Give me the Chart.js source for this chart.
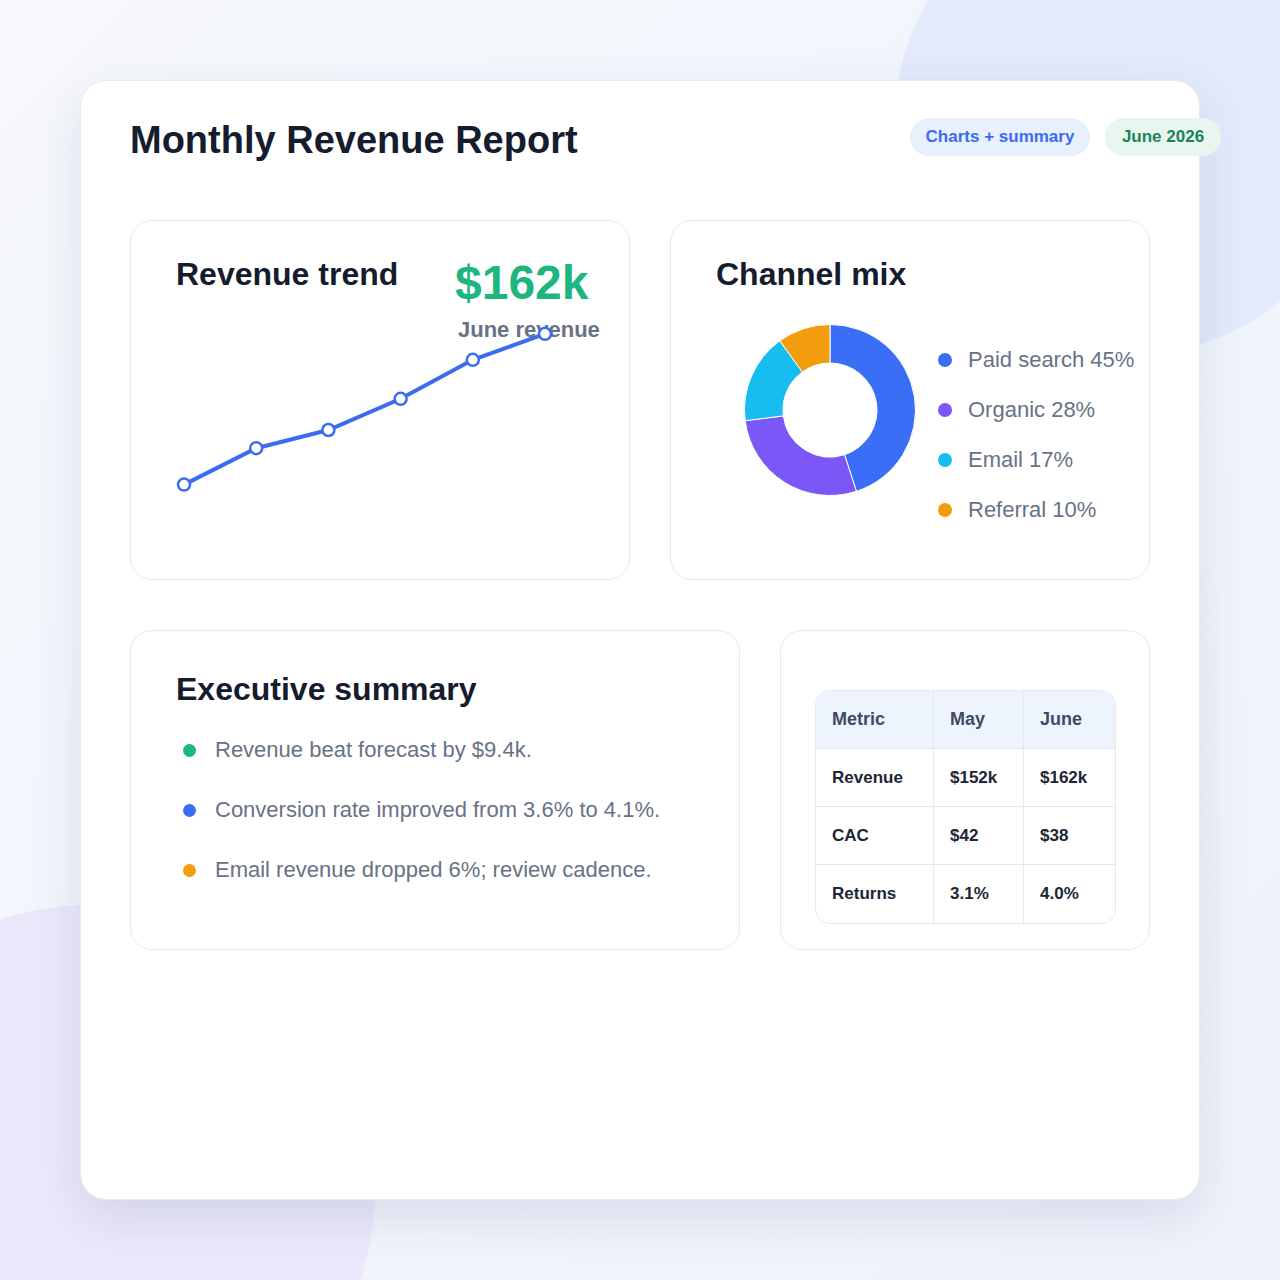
<!DOCTYPE html>
<html><head><meta charset="utf-8">
<script src="https://cdn.jsdelivr.net/npm/chart.js@4.4.1/dist/chart.umd.min.js"></script>
<style>
html,body{margin:0;padding:0;}
body{width:1280px;height:1280px;position:relative;overflow:hidden;font-family:"Liberation Sans",Arial,Helvetica,sans-serif;
background:linear-gradient(135deg,#f6f8fc 0%,#f1f5fc 50%,#eef2fb 100%);}
.blob1{position:absolute;left:895px;top:-115px;width:470px;height:470px;border-radius:50%;background:#e3eafc;}
.blob2{position:absolute;left:-195px;top:905px;width:570px;height:570px;border-radius:50%;background:#ebe8fb;}
.card{position:absolute;left:80px;top:80px;width:1118px;height:1118px;background:#fff;border-radius:26px;border:1px solid #e6eaf1;box-shadow:0 18px 50px rgba(40,60,110,0.12);}
.abs{position:absolute;}
h1{position:absolute;left:130px;top:117px;margin:0;font-size:38px;font-weight:700;color:#151c2e;line-height:46px;white-space:nowrap;}
.pill{position:absolute;top:118px;height:38px;line-height:38px;border-radius:19px;font-size:17px;font-weight:700;text-align:center;}
.panel{position:absolute;background:#fff;border:1.5px solid #e7eaf0;border-radius:22px;box-sizing:border-box;}
.ptitle{position:absolute;margin:0;font-size:32px;font-weight:700;color:#151c2e;line-height:36px;white-space:nowrap;}
.leg{position:absolute;left:938px;font-size:22px;color:#687286;line-height:30px;}
.leg span.dot{position:absolute;left:0;top:8px;width:14px;height:14px;border-radius:50%;}
.leg span.t{position:absolute;left:30px;white-space:nowrap;}
.bul{position:absolute;left:183px;font-size:22px;color:#687286;line-height:30px;white-space:nowrap;}
.bul span.dot{position:absolute;left:0;top:9px;width:13px;height:13px;border-radius:50%;}
.bul span.t{position:absolute;left:32px;}
table{position:absolute;left:815px;top:690px;width:301px;border-collapse:separate;border-spacing:0;border:1.5px solid #e4e8f0;border-radius:15px;overflow:hidden;}
td,th{height:58px;padding:0 0 0 16px;text-align:left;font-size:17px;font-weight:700;color:#1e2536;border-right:1.5px solid #e4e8f0;border-bottom:1.5px solid #e4e8f0;box-sizing:border-box;}
th{background:#eef4fd;color:#3e4a63;font-size:18px;}
tr td:last-child,tr th:last-child{border-right:none;}
tr:last-child td{border-bottom:none;}
</style></head>
<body>
<div class="blob1"></div>
<div class="blob2"></div>
<div class="card"></div>
<h1>Monthly Revenue Report</h1>
<div class="pill" style="left:910px;width:180px;background:#e8effd;color:#3b6cf0;">Charts + summary</div>
<div class="pill" style="left:1105px;width:116px;background:#e8f6ef;color:#198556;">June 2026</div>

<div class="panel" style="left:130px;top:220px;width:500px;height:360px;"></div>
<div class="ptitle" style="left:176px;top:256px;">Revenue trend</div>
<div class="abs" style="left:455px;top:256px;font-size:48px;font-weight:700;color:#1db67f;line-height:54px;">$162k</div>
<div class="abs" style="left:458px;top:317px;font-size:22px;font-weight:700;color:#687286;line-height:26px;white-space:nowrap;">June revenue</div>
<div class="abs" style="left:174px;top:303px;width:381px;height:202px;"><canvas id="line"></canvas></div>

<div class="panel" style="left:670px;top:220px;width:480px;height:360px;"></div>
<div class="ptitle" style="left:716px;top:256px;">Channel mix</div>
<div class="abs" style="left:744px;top:324px;width:172px;height:172px;"><canvas id="donut"></canvas></div>
<div id="legend"></div>

<div class="panel" style="left:130px;top:630px;width:610px;height:320px;"></div>
<div class="ptitle" style="left:176px;top:671px;">Executive summary</div>
<div id="bullets"></div>

<div class="panel" style="left:780px;top:630px;width:370px;height:320px;"></div>
<table id="tbl"></table>

<script>
// Revenue trend (in $k)
const months = ["Jan","Feb","Mar","Apr","May","Jun"];
const revenue = [104, 118, 125, 137, 152, 162];

// Channel mix
const channels = ["Paid search","Organic","Email","Referral"];
const channelShare = [45, 28, 17, 10];
const channelColors = ["#3b6ef6","#7b57f8","#17bdef","#f39c0e"];

// Executive summary
const summaryItems = ["Revenue beat forecast by $9.4k.","Conversion rate improved from 3.6% to 4.1%.","Email revenue dropped 6%; review cadence."];
const summaryColors = ["#1db67f","#3b6ef6","#f39c0e"];

// Table
const tableHeader = ["Metric","May","June"];
const tableMetrics = ["Revenue","CAC","Returns"];
const tableMay = ["$152k","$42","3.1%"];
const tableJune = ["$162k","$38","4.0%"];

Chart.defaults.font.family = '"Liberation Sans", Arial, sans-serif';

new Chart(document.getElementById('line'), {
  type: 'line',
  data: { labels: months, datasets: [{ data: revenue, borderColor: '#3b6cf0', borderWidth: 4,
    pointBackgroundColor: '#fff', pointBorderColor: '#3b6cf0', pointBorderWidth: 2.5, pointRadius: 6,
    tension: 0, fill: false, clip: false }] },
  options: { responsive: true, maintainAspectRatio: false, animation: false,
    layout: { padding: 10 },
    plugins: { legend: { display: false }, tooltip: { enabled: false } },
    scales: { x: { display: false, offset: false }, y: { display: false, min: 100, max: 170 } } }
});

new Chart(document.getElementById('donut'), {
  type: 'doughnut',
  data: { labels: channels, datasets: [{ data: channelShare, backgroundColor: channelColors, borderColor: '#fff', borderWidth: 1 }] },
  options: { responsive: true, maintainAspectRatio: false, animation: false, cutout: '55%',
    plugins: { legend: { display: false }, tooltip: { enabled: false } } }
});

const legend = document.getElementById('legend');
channels.forEach((c, i) => {
  const d = document.createElement('div');
  d.className = 'leg';
  d.style.top = (345 + i * 50) + 'px';
  d.innerHTML = '<span class="dot" style="background:' + channelColors[i] + '"></span><span class="t">' + c + ' ' + channelShare[i] + '%</span>';
  legend.appendChild(d);
});

const bullets = document.getElementById('bullets');
summaryItems.forEach((s, i) => {
  const d = document.createElement('div');
  d.className = 'bul';
  d.style.top = (735 + i * 60) + 'px';
  d.innerHTML = '<span class="dot" style="background:' + summaryColors[i] + '"></span><span class="t">' + s + '</span>';
  bullets.appendChild(d);
});

const tbl = document.getElementById('tbl');
let html = '<tr>' + tableHeader.map(h => '<th>' + h + '</th>').join('') + '</tr>';
tableMetrics.forEach((m, i) => {
  html += '<tr><td style="width:118px">' + m + '</td><td style="width:90px">' + tableMay[i] + '</td><td>' + tableJune[i] + '</td></tr>';
});
tbl.innerHTML = html;
</script>
</body></html>
